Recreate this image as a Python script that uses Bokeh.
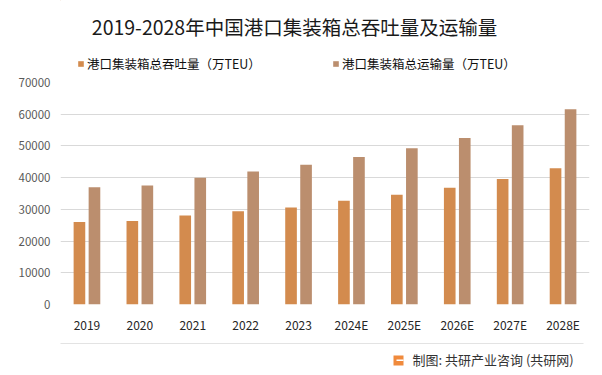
from bokeh.plotting import figure
from bokeh.models import (FactorRange, Legend, LegendItem, Range1d,
                          ColumnDataSource, FixedTicker)
from bokeh.layouts import column
from bokeh.transform import dodge
from bokeh.core.properties import value
from bokeh.embed import file_html
from bokeh.resources import INLINE

# ---- data ----
years = ["2019", "2020", "2021", "2022", "2023", "2024E", "2025E", "2026E", "2027E", "2028E"]
throughput = [26000, 26300, 28100, 29400, 30600, 32700, 34600, 36800, 39600, 43000]
transport = [37000, 37500, 40000, 41900, 44100, 46500, 49300, 52500, 56500, 61600]
y_ticks = [0, 10000, 20000, 30000, 40000, 50000, 60000, 70000]
title_text = "2019-2028年中国港口集装箱总吞吐量及运输量"
name_throughput = "港口集装箱总吞吐量（万TEU）"
name_transport = "港口集装箱总运输量（万TEU）"
source_text = "制图: 共研产业咨询 (共研网)"

FONT = "Noto Sans CJK SC"
C1 = "#D38B4E"
C2 = "#BB8E6E"
W = 602
BL, BR = 60, 13   # left / right borders shared by all panels (frame x = 60..589)
TOP_H = 74        # canvas rows 0..74
MAIN_H = 261      # canvas rows 74..335
FOOT_H = 40       # canvas rows 335..375


def blank(height, y0):
    # frame spans canvas x 60..589, so data x equals canvas x
    f = figure(width=W, height=height,
               x_range=Range1d(BL, W - BR), y_range=Range1d(y0 + height, y0),
               output_backend="svg", toolbar_location=None,
               min_border_left=BL, min_border_right=BR,
               min_border_top=0, min_border_bottom=0)
    f.axis.visible = False
    f.grid.visible = False
    f.outline_line_color = None
    f.title.visible = False
    f.background_fill_color = "white"
    f.border_fill_color = "white"
    return f


# ---- header: title + legend ----
top = blank(TOP_H, 0)
top.text(x=[294], y=[26], text=[title_text], text_align="center",
         text_baseline="middle", text_font=value(FONT),
         text_font_size="19.5px", text_color="#1a1a1a")
# legend key renderers (kept outside the visible area; only their legend keys show)
d1 = top.vbar(x=[-500], top=[-500], bottom=[-501], width=1, fill_color=C1, line_color=None)
d2 = top.vbar(x=[-500], top=[-500], bottom=[-501], width=1, fill_color=C2, line_color=None)
for r, name, x0 in ((d1, name_throughput, 77), (d2, name_transport, 332)):
    lg = Legend(items=[LegendItem(label=name, renderers=[r])],
                location=(x0 - BL, TOP_H - 73), orientation="horizontal",
                padding=0, margin=0, border_line_color=None,
                background_fill_alpha=0, glyph_width=7, glyph_height=7,
                label_standoff=3, label_height=12,
                label_text_font=FONT, label_text_font_size="12.5px",
                label_text_color="#111111")
    top.add_layout(lg, "center")

# ---- main chart ----
src = ColumnDataSource(dict(year=years, throughput=throughput, transport=transport))
p = figure(width=W, height=MAIN_H,
           x_range=FactorRange(*years, range_padding=0),
           y_range=(0, 70000),
           output_backend="svg", toolbar_location=None,
           min_border_left=BL, min_border_right=BR,
           min_border_top=8, min_border_bottom=30)
p.title.visible = False
p.outline_line_color = None
p.background_fill_color = "white"
p.border_fill_color = "white"

p.vbar(x=dodge("year", -0.142, range=p.x_range), top="throughput", width=0.22,
       source=src, fill_color=C1, line_color=None)
p.vbar(x=dodge("year", 0.142, range=p.x_range), top="transport", width=0.22,
       source=src, fill_color=C2, line_color=None)

p.xgrid.grid_line_color = None
p.ygrid.grid_line_color = "#D9D9D9"
p.ygrid.grid_line_width = 1
p.yaxis.ticker = FixedTicker(ticks=y_ticks)
for ax in (p.xaxis[0], p.yaxis[0]):
    ax.axis_line_color = None
    ax.major_tick_line_color = None
    ax.minor_tick_line_color = None
    ax.major_tick_out = 0
    ax.major_tick_in = 0
    ax.major_label_text_font = FONT
p.yaxis.major_label_text_font_size = "11.5px"
p.yaxis.major_label_text_color = "#595959"
p.yaxis.major_label_standoff = 10
p.xaxis.major_label_text_font_size = "12px"
p.xaxis.major_label_text_color = "#262626"
p.xaxis.major_label_standoff = 11

# ---- footer ----
foot = blank(FOOT_H, 335)
foot.segment(x0=[10], y0=[343], x1=[583], y1=[343], line_color="#E3E3E3", line_width=1)
foot.quad(left=[393], right=[403], top=[355], bottom=[365],
          fill_color="#F08A3C", line_color=None)
foot.quad(left=[396], right=[403], top=[359], bottom=[360.5],
          fill_color="white", line_color=None)
foot.text(x=[412], y=[359], text=[source_text], text_align="left",
          text_baseline="middle", text_font=value(FONT),
          text_font_size="13px", text_color="#333333")

layout = column(top, p, foot, spacing=0)
open("out.html", "w").write(file_html(layout, INLINE))
